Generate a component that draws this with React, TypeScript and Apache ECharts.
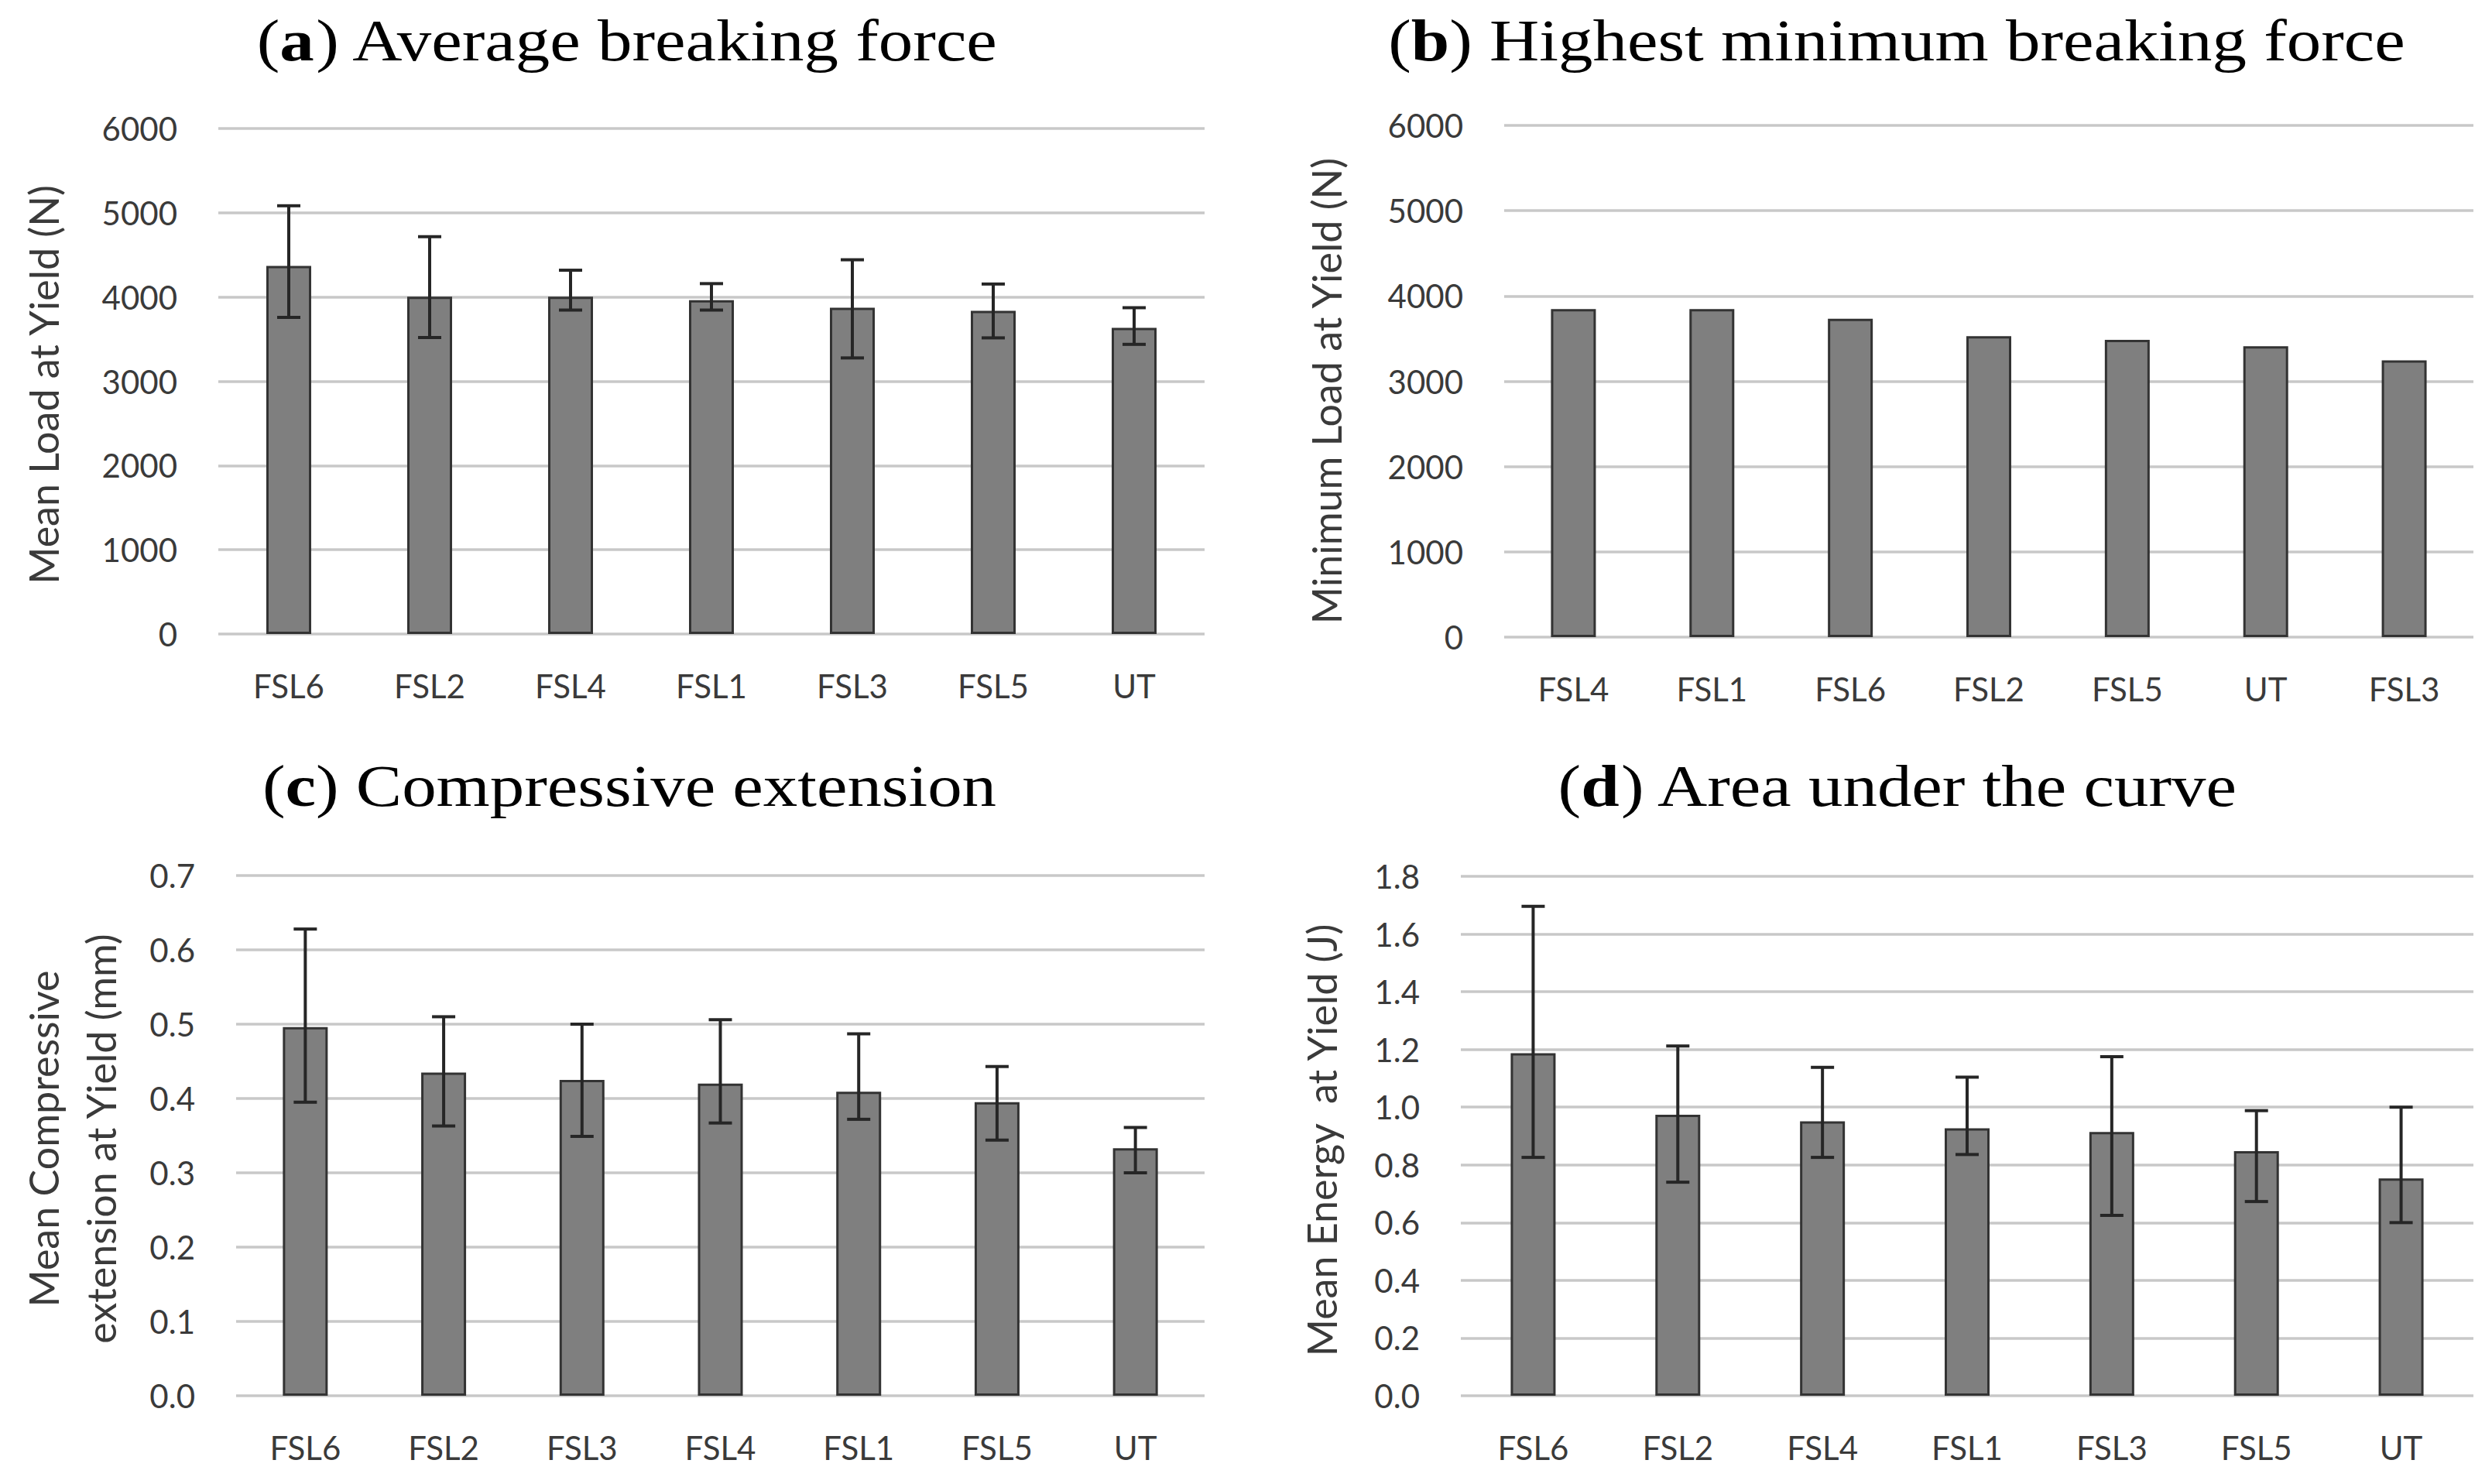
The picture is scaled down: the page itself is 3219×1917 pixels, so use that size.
import React, { useEffect, useRef } from "react";
import * as echarts from "echarts";

// ---------- data ----------
const categoriesA = ["FSL6", "FSL2", "FSL4", "FSL1", "FSL3", "FSL5", "UT"];
const meanLoadA = [4368, 4004, 4004, 3962, 3873, 3835, 3635];
const errHighA = [5083, 4716, 4318, 4159, 4442, 4154, 3873];
const errLowA = [3758, 3519, 3845, 3845, 3277, 3515, 3438];

const categoriesB = ["FSL4", "FSL1", "FSL6", "FSL2", "FSL5", "UT", "FSL3"];
const minLoadB = [3846, 3846, 3732, 3529, 3485, 3411, 3245];

const categoriesC = ["FSL6", "FSL2", "FSL3", "FSL4", "FSL1", "FSL5", "UT"];
const meanExtC = [0.496, 0.435, 0.425, 0.42, 0.409, 0.395, 0.333];
const errHighC = [0.628, 0.51, 0.5, 0.506, 0.487, 0.443, 0.361];
const errLowC = [0.395, 0.363, 0.349, 0.367, 0.372, 0.344, 0.3];

const categoriesD = ["FSL6", "FSL2", "FSL4", "FSL1", "FSL3", "FSL5", "UT"];
const meanEnergyD = [1.187, 0.974, 0.951, 0.927, 0.914, 0.848, 0.753];
const errHighD = [1.696, 1.212, 1.138, 1.104, 1.175, 0.988, 1.0];
const errLowD = [0.826, 0.74, 0.826, 0.836, 0.625, 0.673, 0.6];

const loadTicks = [0, 1000, 2000, 3000, 4000, 5000, 6000];
const extTicks = [0, 0.1, 0.2, 0.3, 0.4, 0.5, 0.6, 0.7];
const energyTicks = [0, 0.2, 0.4, 0.6, 0.8, 1.0, 1.2, 1.4, 1.6, 1.8];

const titles = [
  { letter: "a", text: " Average breaking force" },
  { letter: "b", text: " Highest minimum breaking force" },
  { letter: "c", text: " Compressive extension" },
  { letter: "d", text: " Area under the curve" },
];
const yNames = [
  "Mean Load at Yield (N)",
  "Minimum Load at Yield (N)",
  "Mean Compressive\nextension at Yield (mm)",
  "Mean Energy  at Yield (J)",
];

// ---------- style / layout ----------
const SANS = "Lato, 'Liberation Sans', sans-serif";
const SERIF = "'Liberation Serif', 'DejaVu Serif', serif";
const LABEL_COLOR = "#3a3a3a";
const GRID_COLOR = "#c8c8c8";
const BAR_FILL = "#7f7f7f";
const BAR_BORDER = "#333333";
const ERR_COLOR = "#262626";

const grids = [
  { left: 282, top: 166, width: 1274, height: 653 },
  { left: 1943, top: 162, width: 1252, height: 661 },
  { left: 305, top: 1131, width: 1251, height: 672 },
  { left: 1887, top: 1132, width: 1308, height: 671 },
];
const titlePos = [
  [811, 52],
  [2450, 52],
  [813, 1015],
  [2452, 1015],
];
const yNamePos = [
  [56, 497],
  [1713, 505],
  [93, 1471],
  [1707, 1473],
];

function ticksAxis(ticks: number[], decimals: number, gridIndex: number) {
  return {
    type: "value",
    gridIndex,
    min: ticks[0],
    max: ticks[ticks.length - 1],
    interval: ticks[1] - ticks[0],
    axisLine: { show: false },
    axisTick: { show: false },
    splitLine: { show: true, lineStyle: { color: GRID_COLOR, width: 3.5 } },
    axisLabel: {
      fontFamily: SANS,
      fontSize: 42,
      color: LABEL_COLOR,
      margin: 53,
      formatter: (v: number) => (decimals > 0 ? v.toFixed(decimals) : String(Math.round(v))),
    },
  };
}

function catAxis(cats: string[], gridIndex: number) {
  return {
    type: "category",
    gridIndex,
    data: cats,
    axisLine: { show: false },
    axisTick: { show: false },
    axisLabel: {
      fontFamily: SANS,
      fontSize: 42,
      color: LABEL_COLOR,
      margin: 46,
      interval: 0,
    },
  };
}

function barSeries(values: number[], idx: number) {
  return {
    type: "bar",
    xAxisIndex: idx,
    yAxisIndex: idx,
    data: values,
    barWidth: 58,
    itemStyle: { color: BAR_FILL, borderColor: BAR_BORDER, borderWidth: 3 },
    z: 2,
  };
}

function errSeries(low: number[], high: number[], idx: number) {
  const data = low.map((l, i) => [i, l, high[i]]);
  return {
    type: "custom",
    xAxisIndex: idx,
    yAxisIndex: idx,
    data,
    z: 5,
    renderItem: (params: any, api: any) => {
      const x = api.value(0);
      const pHi = api.coord([x, api.value(2)]);
      const pLo = api.coord([x, api.value(1)]);
      const hw = 15;
      const style = { stroke: ERR_COLOR, lineWidth: 4 };
      return {
        type: "group",
        children: [
          { type: "line", shape: { x1: pHi[0], y1: pHi[1], x2: pLo[0], y2: pLo[1] }, style },
          { type: "line", shape: { x1: pHi[0] - hw, y1: pHi[1], x2: pHi[0] + hw, y2: pHi[1] }, style },
          { type: "line", shape: { x1: pLo[0] - hw, y1: pLo[1], x2: pLo[0] + hw, y2: pLo[1] }, style },
        ],
      };
    },
  };
}

export default function App() {
  const ref = useRef<HTMLDivElement>(null);

  useEffect(() => {
    if (!ref.current) return;
    const chart = echarts.init(ref.current, null, { renderer: "svg" });

    const graphics: any[] = [];
    titles.forEach((t, i) => {
      graphics.push({
        type: "text",
        x: titlePos[i][0],
        y: titlePos[i][1],
        scaleX: 1.17,
        style: {
          text: `{p|(}{b|${t.letter}}{p|)${t.text}}`,
          rich: {
            p: { fontFamily: SERIF, fontSize: 76, fill: "#000" },
            b: { fontFamily: SERIF, fontSize: 76, fontWeight: "bold", fill: "#000" },
          },
          textAlign: "center",
          textVerticalAlign: "middle",
        },
      });
    });
    yNames.forEach((n, i) => {
      graphics.push({
        type: "text",
        x: yNamePos[i][0],
        y: yNamePos[i][1],
        rotation: Math.PI / 2,
        style: {
          text: n,
          fontFamily: SANS,
          fontSize: 52,
          lineHeight: 74,
          fill: LABEL_COLOR,
          textAlign: "center",
          textVerticalAlign: "middle",
        },
      });
    });

    chart.setOption({
      animation: false,
      backgroundColor: "#ffffff",
      grid: grids.map((g) => ({ ...g, containLabel: false })),
      xAxis: [
        catAxis(categoriesA, 0),
        catAxis(categoriesB, 1),
        catAxis(categoriesC, 2),
        catAxis(categoriesD, 3),
      ],
      yAxis: [
        ticksAxis(loadTicks, 0, 0),
        ticksAxis(loadTicks, 0, 1),
        ticksAxis(extTicks, 1, 2),
        ticksAxis(energyTicks, 1, 3),
      ],
      series: [
        barSeries(meanLoadA, 0),
        errSeries(errLowA, errHighA, 0),
        barSeries(minLoadB, 1),
        barSeries(meanExtC, 2),
        errSeries(errLowC, errHighC, 2),
        barSeries(meanEnergyD, 3),
        errSeries(errLowD, errHighD, 3),
      ],
      graphic: graphics,
    });

    return () => chart.dispose();
  }, []);

  return (
    <div
      ref={ref}
      style={{ position: "absolute", left: 0, top: 0, width: 3219, height: 1917 }}
    />
  );
}
